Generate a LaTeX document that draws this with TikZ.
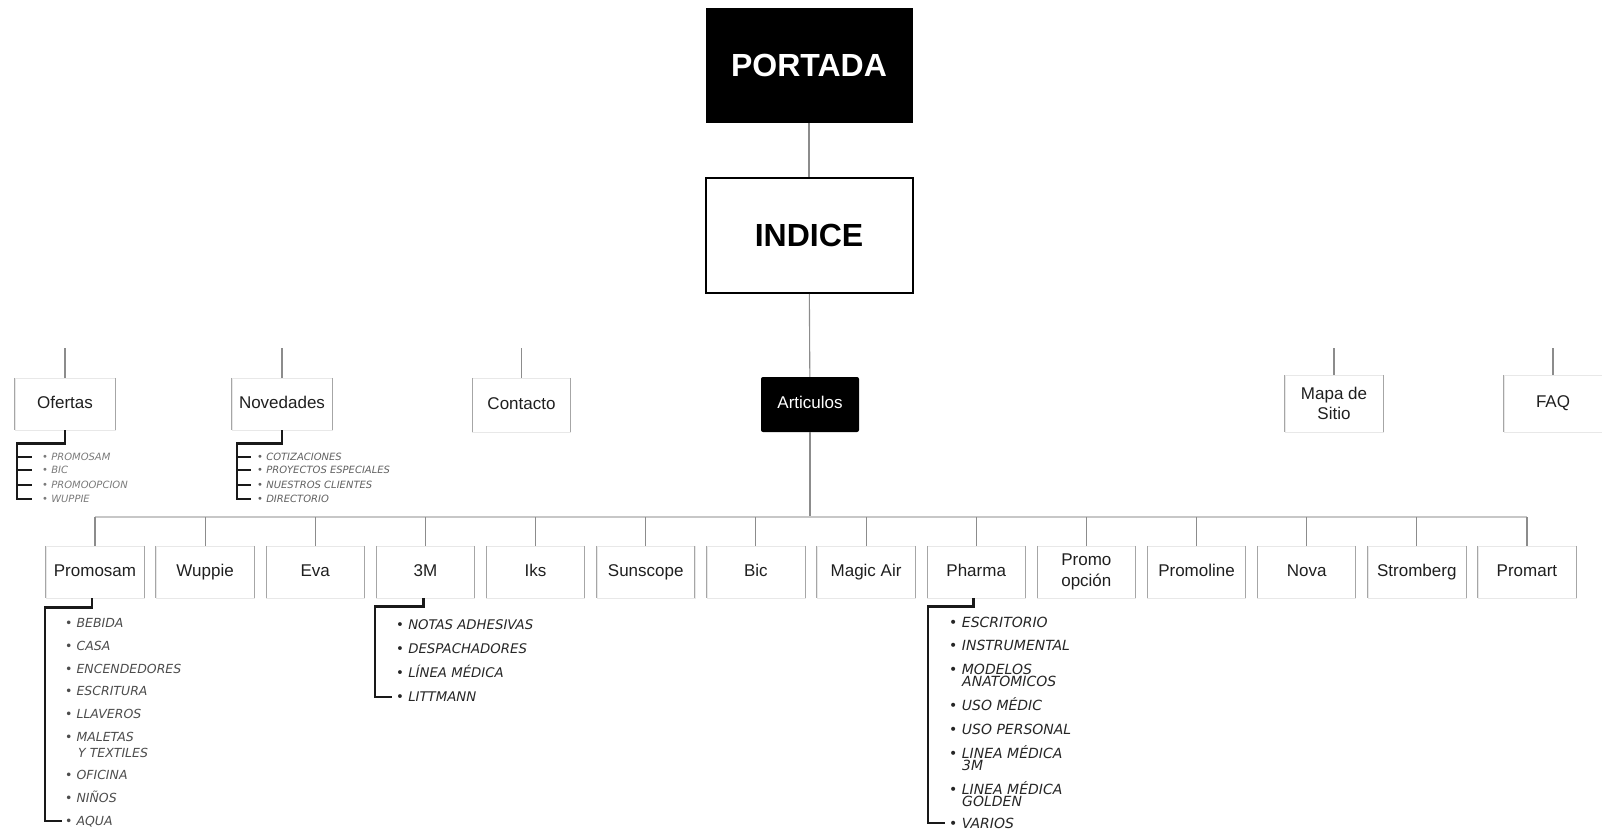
\documentclass[tikz,border=0pt]{standalone}
\usepackage{fontspec}
\setmainfont{Liberation Sans}
\newfontfamily\listfam{DejaVu Sans}[ItalicFont={DejaVu Sans Oblique}]

\tikzset{
  conn/.style={draw=black!45, line width=1.1pt},
  faintbar/.style={draw=black!22, line width=1.1pt},
  brk/.style={draw=black!90, line width=2.6pt, line join=miter},
  side/.style={draw=black!35, line width=1pt},
  topbox/.style={minimum width=207pt, minimum height=115pt, inner sep=0pt,
    font=\bfseries\fontsize{32}{36}\selectfont},
  leafbase/.style={minimum width=98pt, minimum height=52pt, inner sep=0pt, align=center,
    font=\fontsize{17}{20.5}\selectfont, text=black!88, draw=black!9},
  leaf/.style={leafbase, text height=12.3pt, text depth=3.6pt},
  darkleaf/.style={minimum width=98pt, minimum height=55pt, inner sep=0pt,
    fill=black, rounded corners=2pt, text=white, font=\fontsize{17}{20.5}\selectfont,
    text height=12.3pt, text depth=3.6pt},
  item/.style={anchor=west, inner sep=0pt, text depth=0pt},
  itemS/.style={item, text height=7.3pt, text=black!52,
    font=\listfam\itshape\fontsize{10}{12}\selectfont},
  itemA/.style={item, text height=9.1pt, text=black!70,
    font=\listfam\itshape\fontsize{12.5}{14}\selectfont},
  itemB/.style={item, text height=9.7pt, text=black!85,
    font=\listfam\itshape\fontsize{13.3}{15}\selectfont},
  itemC/.style={item, text height=10.2pt, text=black!85,
    font=\listfam\itshape\fontsize{14}{16}\selectfont},
}

\begin{document}
\begin{tikzpicture}[x=1pt,y=-1pt]
\useasboundingbox (0,0) rectangle (1602,829);

% top of the hierarchy
\node[topbox, fill=black, text=white] (portada) at (809,65.5) {PORTADA};
\node[topbox, draw=black, line width=2pt] (indice) at (809,235.5) {INDICE};

% first level sections
\coordinate (top) at (0,348);
\coordinate (bar) at (0,517);
\node[leaf, minimum width=100pt] (ofertas) at (65,404) {Ofertas};
\node[leaf, minimum width=100pt] (novedades) at (282,404) {Novedades};
\node[leaf, minimum height=54pt] (contacto) at (521.5,405) {Contacto};
\node[darkleaf] (articulos) at (810,404.5) {Articulos};
\node[leafbase, minimum height=57pt] (mapa) at (1334,403.5) {Mapa de\\Sitio};
\node[leaf, minimum height=57pt] (faq) at (1553,403.5) {FAQ};

\foreach \n in {ofertas,novedades,contacto,mapa,faq}
  \draw[conn] (\n.north) -- (\n.north |- top);

\draw[conn] (portada) -- (indice);
\draw[conn] (indice) -- (articulos);
\draw[conn] (articulos) -- (articulos |- bar);

% brands under Articulos
\foreach \i/\lab in {0/Promosam,1/Wuppie,2/Eva,3/3M,4/Iks,5/Sunscope,6/Bic,
    7/Magic Air,8/Pharma,10/Promoline,11/Nova,12/Stromberg,13/Promart}
  \node[leaf] (r\i) at (95+110.15*\i,572) {\lab};
\node[leafbase] (r9) at (95+110.15*9,572) {Promo\\opción};

\draw[faintbar] (r0.north |- bar) -- (r13.north |- bar);
\foreach \i in {0,...,13}
  \draw[conn] (r\i.north) -- (r\i.north |- bar);

% darker side rules of the light boxes
\foreach \n in {ofertas,novedades,contacto,mapa,faq,r0,r1,r2,r3,r4,r5,r6,r7,r8,r9,r10,r11,r12,r13}
  \draw[side] (\n.north west) -- (\n.south west) (\n.north east) -- (\n.south east);

% Ofertas sub-list
\node[itemS] (o1) at (42,457) {• PROMOSAM};
\node[itemS] (o2) at (42,470) {• BIC};
\node[itemS] (o3) at (42,485) {• PROMOOPCION};
\node[itemS] (o4) at (42,499) {• WUPPIE};
\draw[brk] (ofertas.south) -- ++(0,13) -| ([xshift=-25pt]o4.west) -- ([xshift=-10pt]o4.west);
\foreach \k in {o1,o2,o3}
  \draw[brk] ([xshift=-25pt]\k.west) -- ([xshift=-10pt]\k.west);

% Novedades sub-list
\node[itemS, text=black!62] (n1) at (257,457) {• COTIZACIONES};
\node[itemS, text=black!62] (n2) at (257,470) {• PROYECTOS ESPECIALES};
\node[itemS, text=black!62] (n3) at (257,485) {• NUESTROS CLIENTES};
\node[itemS, text=black!62] (n4) at (257,499) {• DIRECTORIO};
\draw[brk] (novedades.south) -- ++(0,13) -| ([xshift=-20pt]n4.west) -- ([xshift=-6pt]n4.west);
\foreach \k in {n1,n2,n3}
  \draw[brk] ([xshift=-20pt]\k.west) -- ([xshift=-6pt]\k.west);

% Promosam sub-list
\node[itemA] (p1) at (65,623) {• BEBIDA};
\node[itemA] (p2) at (65,646) {• CASA};
\node[itemA] (p3) at (65,669) {• ENCENDEDORES};
\node[itemA] (p4) at (65,691) {• ESCRITURA};
\node[itemA] (p5) at (65,714) {• LLAVEROS};
\node[itemA] (p6) at (65,737) {• MALETAS};
\node[itemA] (p6b) at (78,753) {Y TEXTILES};
\node[itemA] (p7) at (65,775) {• OFICINA};
\node[itemA] (p8) at (65,798) {• NIÑOS};
\node[itemA] (p9) at (65,821) {• AQUA};
\draw[brk] ([xshift=-3pt]r0.south) -- ++(0,9) -| ([xshift=-20pt]p9.west) -- ([xshift=-3pt]p9.west);

% 3M sub-list
\node[itemB] (m1) at (396,625) {• NOTAS ADHESIVAS};
\node[itemB] (m2) at (396,649) {• DESPACHADORES};
\node[itemB] (m3) at (396,673) {• LÍNEA MÉDICA};
\node[itemB] (m4) at (396,697) {• LITTMANN};
\draw[brk] ([xshift=-2pt]r3.south) -- ++(0,8) -| ([xshift=-21pt]m4.west) -- ([xshift=-4pt]m4.west);

% Pharma sub-list
\node[itemC] (h1) at (949,622) {• ESCRITORIO};
\node[itemC] (h2) at (949,645) {• INSTRUMENTAL};
\node[itemC] (h3) at (949,669) {• MODELOS};
\node[itemC] (h3b) at (962,681) {ANATOMICOS};
\node[itemC] (h4) at (949,705) {• USO MÉDIC};
\node[itemC] (h5) at (949,729) {• USO PERSONAL};
\node[itemC] (h6) at (949,753) {• LINEA MÉDICA};
\node[itemC] (h6b) at (962,765) {3M};
\node[itemC] (h7) at (949,789) {• LINEA MÉDICA};
\node[itemC] (h7b) at (962,801) {GOLDEN};
\node[itemC] (h8) at (949,823) {• VARIOS};
\draw[brk] ([xshift=-3pt]r8.south) -- ++(0,8) -| ([xshift=-21pt]h8.west) -- ([xshift=-4pt]h8.west);
\end{tikzpicture}
\end{document}
